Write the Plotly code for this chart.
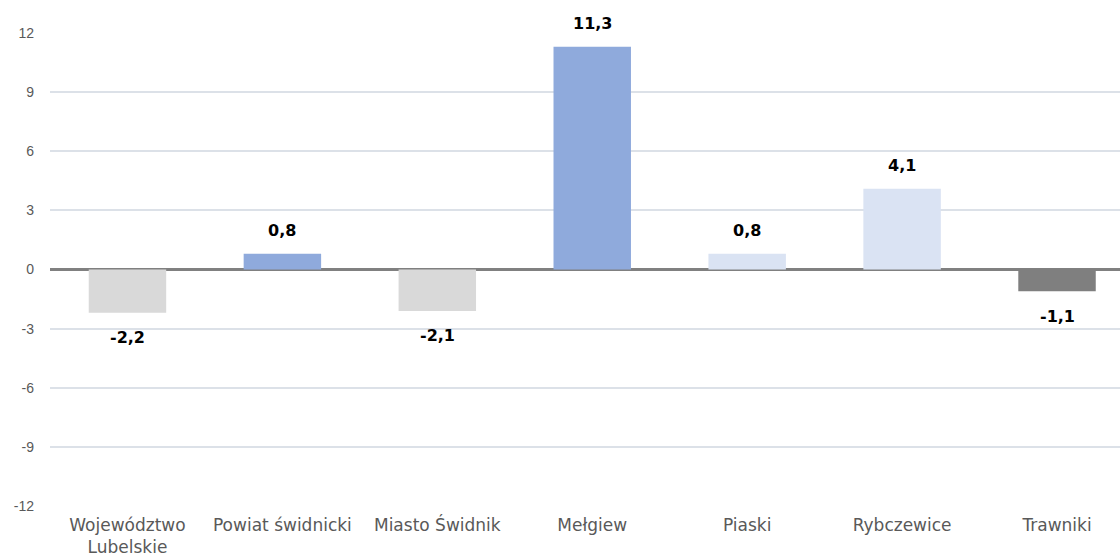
import plotly.graph_objects as go

categories = ["Województwo<br>Lubelskie", "Powiat świdnicki", "Miasto Świdnik", "Mełgiew",
              "Piaski", "Rybczewice", "Trawniki"]
values = [-2.2, 0.8, -2.1, 11.3, 0.8, 4.1, -1.1]
colors = ["#D9D9D9", "#8FAADC", "#D9D9D9", "#8FAADC", "#DAE3F3", "#DAE3F3", "#7F7F7F"]
tick_vals = [-12, -9, -6, -3, 0, 3, 6, 9, 12]

fig = go.Figure()
fig.add_trace(go.Bar(
    x=list(range(len(categories))), y=values, marker=dict(color=colors, line=dict(width=0)),
    width=0.5, hoverinfo="skip"))

for i, v in enumerate(values):
    fig.add_annotation(
        x=i, y=v, text=f"{v:.1f}".replace(".", ","), showarrow=False,
        yshift=23 if v >= 0 else -25, xanchor="center", yanchor="middle",
        font=dict(family="DejaVu Sans", size=16, color="#000000", weight="bold"))

fig.update_layout(
    width=1120, height=558,
    margin=dict(l=49.5, r=0, t=32.7, b=52.3, autoexpand=False),
    plot_bgcolor="white", paper_bgcolor="white",
    showlegend=False,
    xaxis=dict(
        tickmode="array", tickvals=list(range(len(categories))), ticktext=categories,
        range=[-0.5, 6.4065], showgrid=False, zeroline=False, showline=False, ticks="",
        tickfont=dict(family="DejaVu Sans", size=17, color="#595959"),
        ticklabelstandoff=7, automargin=False,
    ),
    yaxis=dict(
        range=[-12, 12], tickvals=tick_vals, ticktext=[str(t) for t in tick_vals],
        showgrid=True, gridcolor="#DCE1E8", gridwidth=1.5,
        zeroline=True, zerolinecolor="#808080", zerolinewidth=3,
        showline=False, ticks="",
        tickfont=dict(family="Liberation Sans", size=14, color="#595959"),
        ticklabelstandoff=15, automargin=False,
    ),
)

fig.write_html("out.html", config={"displayModeBar": False},
               post_script="document.body.style.margin='0';document.body.style.overflow='hidden';")
